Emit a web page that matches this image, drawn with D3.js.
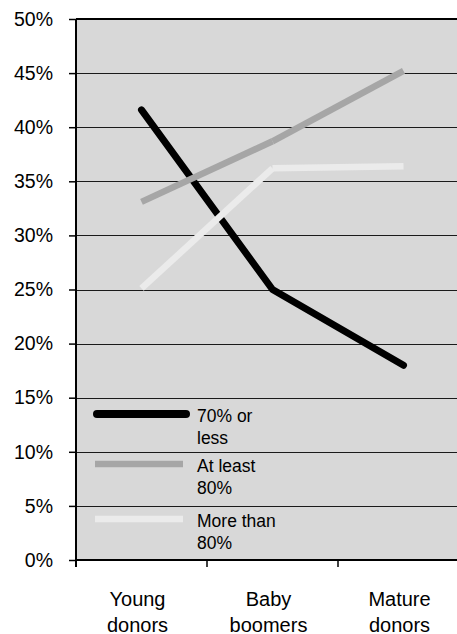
<!DOCTYPE html>
<html>
<head>
<meta charset="utf-8">
<script src="https://cdn.jsdelivr.net/npm/d3@7/dist/d3.min.js"></script>
<style>
  html, body { margin: 0; padding: 0; background: #ffffff; }
  svg { display: block; font-family: "Liberation Sans", Arial, Helvetica, sans-serif; }
</style>
</head>
<body>
<svg id="chart" width="457" height="634"></svg>
<script>
// Donor age groups on the x axis
const categories = [["Young", "donors"], ["Baby", "boomers"], ["Mature", "donors"]];
// Share of donors (%) by retention group
const seriesNames = [["70% or", "less"], ["At least", "80%"], ["More than", "80%"]];
const seventyOrLess = [41.6, 25.0, 18.0];
const atLeast80 = [33.1, 38.7, 45.2];
const moreThan80 = [25.1, 36.2, 36.4];
const yTicks = [0, 5, 10, 15, 20, 25, 30, 35, 40, 45, 50];

const series = [
  { name: seriesNames[0], values: seventyOrLess, color: "#000000", width: 7, cap: "round", joined: true },
  { name: seriesNames[1], values: atLeast80, color: "#a6a6a6", width: 6.5, cap: "butt", joined: false },
  { name: seriesNames[2], values: moreThan80, color: "#ebebeb", width: 6.5, cap: "butt", joined: false }
];

const svg = d3.select("#chart");
const plot = { left: 76, right: 469, top: 19, bottom: 560 };

const x = d3.scaleBand()
  .domain(categories.map(c => c.join(" ")))
  .range([plot.left, plot.right]);
const y = d3.scaleLinear().domain([0, 50]).range([plot.bottom, plot.top]);
const cx = i => x(categories[i].join(" ")) + x.bandwidth() / 2;

// Plot background
svg.append("rect")
  .attr("x", plot.left).attr("y", plot.top)
  .attr("width", plot.right - plot.left).attr("height", plot.bottom - plot.top)
  .attr("fill", "#d8d8d8");

// Horizontal gridlines
svg.append("g")
  .selectAll("line")
  .data(yTicks.filter(t => t > 0 && t < 50))
  .join("line")
  .attr("x1", plot.left).attr("x2", plot.right)
  .attr("y1", d => Math.round(y(d)) + 0.5).attr("y2", d => Math.round(y(d)) + 0.5)
  .attr("stroke", "#1a1a1a").attr("stroke-width", 1);

// Top border and bottom axis line
svg.append("line")
  .attr("x1", plot.left).attr("x2", plot.right)
  .attr("y1", y(50)).attr("y2", y(50))
  .attr("stroke", "#000").attr("stroke-width", 2);
svg.append("line")
  .attr("x1", plot.left).attr("x2", plot.right)
  .attr("y1", y(0)).attr("y2", y(0))
  .attr("stroke", "#000").attr("stroke-width", 2);

// Y axis
const yAxis = d3.axisLeft(y).tickValues(yTicks).tickFormat(d => d + "%").tickSize(7).tickPadding(16);
const gy = svg.append("g").attr("transform", `translate(${plot.left},0)`).call(yAxis);
gy.select(".domain").attr("stroke", "#000").attr("stroke-width", 2)
  .attr("d", `M0,${plot.top}V${plot.bottom + 7}`);
gy.selectAll(".tick line").attr("stroke", "#000").attr("stroke-width", 1.5);
gy.selectAll(".tick text")
  .attr("fill", "#000")
  .style("font-size", "19.5px")
  .style("font-family", "'Liberation Sans', Arial, sans-serif");

// X axis ticks at band boundaries
const xBounds = x.domain().map(d => x(d)).concat([plot.right]);
svg.append("g").selectAll("line")
  .data(xBounds.slice(1))
  .join("line")
  .attr("x1", d => d).attr("x2", d => d)
  .attr("y1", plot.bottom).attr("y2", plot.bottom + 7)
  .attr("stroke", "#000").attr("stroke-width", 1.5);

// X category labels (two lines each)
const xl = svg.append("g").selectAll("text")
  .data(categories)
  .join("text")
  .attr("x", (d, i) => cx(i) - 4)
  .attr("y", 605.5)
  .attr("text-anchor", "middle")
  .attr("fill", "#000")
  .style("font-size", "20px");
xl.selectAll("tspan")
  .data(d => d)
  .join("tspan")
  .attr("x", function () { return d3.select(this.parentNode).attr("x"); })
  .attr("dy", (d, i) => i === 0 ? 0 : 26)
  .text(d => d);

// Series lines
series.forEach(s => {
  const g = svg.append("g");
  if (s.joined) {
    const line = d3.line().x((d, i) => cx(i)).y(d => y(d));
    g.append("path")
      .attr("d", line(s.values))
      .attr("fill", "none")
      .attr("stroke", s.color)
      .attr("stroke-width", s.width)
      .attr("stroke-linecap", s.cap)
      .attr("stroke-linejoin", "round");
  } else {
    const segs = d3.pairs(s.values.map((v, i) => [cx(i), y(v)]));
    g.selectAll("line")
      .data(segs)
      .join("line")
      .attr("x1", d => d[0][0]).attr("y1", d => d[0][1])
      .attr("x2", d => d[1][0]).attr("y2", d => d[1][1])
      .attr("stroke", s.color)
      .attr("stroke-width", s.width)
      .attr("stroke-linecap", s.cap);
  }
});

// Legend
const legendY = [414, 464, 519];
const legend = svg.append("g");
series.forEach((s, i) => {
  legend.append("line")
    .attr("x1", s.cap === "round" ? 97 : 95).attr("x2", s.cap === "round" ? 186 : 183)
    .attr("y1", legendY[i]).attr("y2", legendY[i])
    .attr("stroke", s.color)
    .attr("stroke-width", s.cap === "round" ? 8 : 6.5)
    .attr("stroke-linecap", s.cap);
  const t = legend.append("text")
    .attr("x", 197)
    .attr("y", legendY[i] + 7.5)
    .attr("fill", "#000")
    .style("font-size", "17.5px");
  t.selectAll("tspan")
    .data(s.name)
    .join("tspan")
    .attr("x", 197)
    .attr("dy", (d, j) => j === 0 ? 0 : 22.7)
    .text(d => d);
});
</script>
</body>
</html>
